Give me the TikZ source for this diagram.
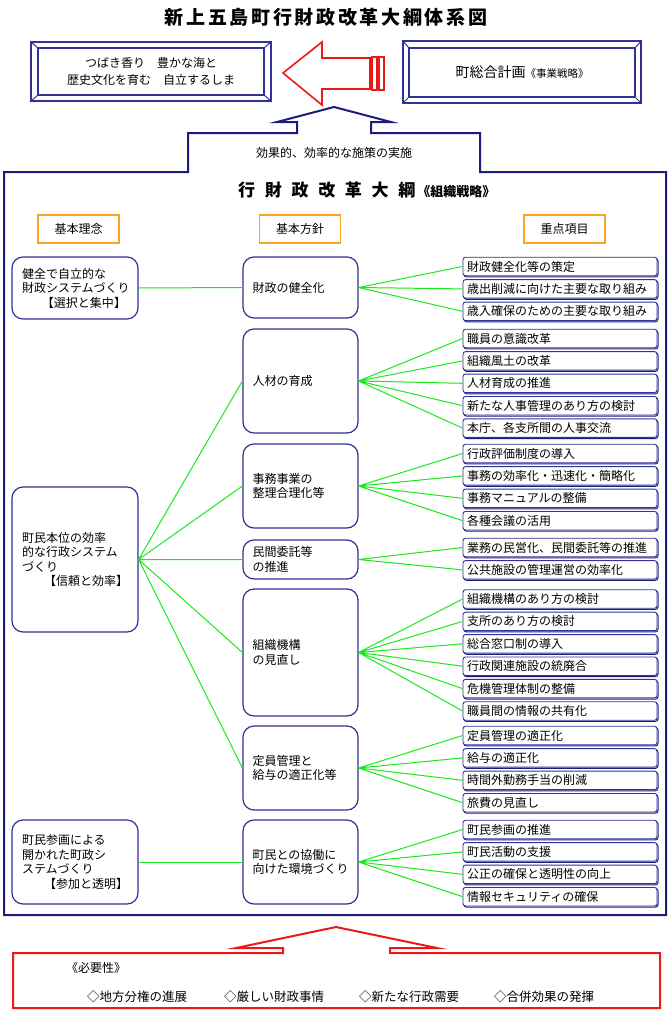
\documentclass[tikz,border=0pt]{standalone}
\usepackage{fontspec}
\setmainfont{Noto Sans CJK JP}
\usepackage{xcolor}
\usepackage{tikz}
\usetikzlibrary{shapes,arrows,positioning,calc}

\definecolor{framenavy}{RGB}{28,28,128}
\definecolor{boxblue}{RGB}{50,50,150}
\definecolor{headorange}{RGB}{250,165,30}
\definecolor{linkgreen}{RGB}{25,235,25}
\definecolor{alertred}{RGB}{235,25,25}

\begin{document}
\begin{tikzpicture}[x=1pt, y=-1pt, font=\fontsize{12}{14.5}\selectfont,
    bevel/.style={draw=boxblue, line width=1.6pt, inner sep=0pt, align=center},
    headbox/.style={draw=headorange, line width=1.2pt, minimum width=81pt, minimum height=28pt},
    leftbox/.style={draw=boxblue, line width=1.2pt, rounded corners=11pt, fill=white, minimum width=126pt, text width=106pt, align=left},
    midbox/.style={draw=boxblue, line width=1.2pt, rounded corners=11pt, fill=white, minimum width=115pt, text width=96pt, align=left},
    itembox/.style={draw=boxblue, line width=0.9pt, rounded corners=2.5pt, fill=white, minimum width=194pt, minimum height=18.5pt, text width=186pt, inner xsep=4pt, inner ysep=0pt, align=left, preaction={draw=framenavy, line width=1pt, transform canvas={xshift=1pt, yshift=-1.2pt}}},
    link/.style={draw=linkgreen, line width=1pt},
    outerframe/.style={draw=framenavy, line width=2pt},
    redline/.style={draw=alertred, line width=1.6pt}]
    \useasboundingbox[fill=white] (0,0) rectangle (670,1012);

    % title
    \node[font=\fontsize{19}{21}\selectfont\bfseries] (title) at (326,17) {\addfontfeature{LetterSpace=14}新上五島町行財政改革大綱体系図};

    % vision and town plan
    \node[bevel, minimum width=240pt, minimum height=59pt, font=\fontsize{12}{17}\selectfont] (vision) at (151,71.5) {つばき香り　豊かな海と\\歴史文化を育む　自立するしま};
    \draw[boxblue, line width=1.6pt] ($(vision.north west)+(8,7)$) rectangle ($(vision.south east)+(-8,-7)$);
    \draw[boxblue, line width=1pt] (vision.north west) -- ++(8,7) (vision.north east) -- ++(-8,7) (vision.south west) -- ++(8,-7) (vision.south east) -- ++(-8,-7);
    \node[bevel, minimum width=238pt, minimum height=62pt] (plan) at (522,72) {{\fontsize{14}{16}\selectfont 町総合計画}{\fontsize{10.5}{12}\selectfont 《事業戦略》}};
    \draw[boxblue, line width=1.6pt] ($(plan.north west)+(7,8)$) rectangle ($(plan.south east)+(-7,-7)$);
    \draw[boxblue, line width=1pt] (plan.north west) -- ++(7,8) (plan.north east) -- ++(-7,8) (plan.south west) -- ++(7,-7) (plan.south east) -- ++(-7,-7);

    % block arrow
    \draw[redline, fill=white] (283,73) -- (322,42) -- (322,58) -- (370,58) -- (370,89) -- (322,89) -- (322,105) -- cycle;
    \draw[redline] (372,57) rectangle (377,90) (379,57) rectangle (384,90);

    % main frame
    \draw[outerframe] (334,107) -- (391,122) -- (371,122) -- (371,133) -- (480,133) -- (480,172) -- (666,172) -- (666,915) -- (4,915) -- (4,172) -- (188,172) -- (188,133) -- (297,133) -- (297,122) -- (277,122) -- cycle;
    \node (policy) at (334,153) {効果的、効率的な施策の実施};
    \node[anchor=west, inner sep=0pt, font=\bfseries] (taiko) at (238,190) {{\fontsize{17}{20}\selectfont\addfontfeature{LetterSpace=57}行財政改革大綱}\hspace{2pt}{\fontsize{13}{15}\selectfont 《組織戦略》}};

    % column heads
    \node[headbox] (h1) at (78.5,229) {基本理念};
    \node[headbox] (h2) at (300,229) {基本方針};
    \node[headbox] (h3) at (564.5,229) {重点項目};

    % basic ideas
    \node[leftbox, minimum height=62pt] (l1) at (75,288) {健全で自立的な\\財政システムづくり\\\hspace*{20pt}【選択と集中】};
    \node[leftbox, minimum height=145pt] (l2) at (75,559.5) {町民本位の効率\\的な行政システム\\づくり\\\hspace*{22pt}【信頼と効率】};
    \node[leftbox, minimum height=84pt] (l3) at (75,862) {町民参画による\\開かれた町政シ\\ステムづくり\\\hspace*{22pt}【参加と透明】};

    % basic policies
    \node[midbox, minimum height=61pt] (m1) at (300.5,287.5) {財政の健全化};
    \node[midbox, minimum height=104pt] (m2) at (300.5,381) {人材の育成};
    \node[midbox, minimum height=84pt] (m3) at (300.5,486) {事務事業の\\整理合理化等};
    \node[midbox, minimum height=39pt] (m4) at (300.5,559.5) {民間委託等\\の推進};
    \node[midbox, minimum height=127pt] (m5) at (300.5,652.5) {組織機構\\の見直し};
    \node[midbox, minimum height=84pt] (m6) at (300.5,768) {定員管理と\\給与の適正化等};
    \node[midbox, minimum height=84pt] (m7) at (300.5,862) {町民との協働に\\向けた環境づくり};

    % key items
    \node[itembox] (m1a) at (560,266.5) {財政健全化等の策定};
    \node[itembox, below=3pt of m1a] (m1b) {歳出削減に向けた主要な取り組み};
    \node[itembox, below=3pt of m1b] (m1c) {歳入確保のための主要な取り組み};

    \node[itembox] (m2a) at (560,338.5) {職員の意識改革};
    \node[itembox, below=3pt of m2a] (m2b) {組織風土の改革};
    \node[itembox, below=3pt of m2b] (m2c) {人材育成の推進};
    \node[itembox, below=3pt of m2c] (m2d) {新たな人事管理のあり方の検討};
    \node[itembox, below=3pt of m2d] (m2e) {本庁、各支所間の人事交流};

    \node[itembox] (m3a) at (560,453.5) {行政評価制度の導入};
    \node[itembox, below=3pt of m3a] (m3b) {事務の効率化・迅速化・簡略化};
    \node[itembox, below=3pt of m3b] (m3c) {事務マニュアルの整備};
    \node[itembox, below=3pt of m3c] (m3d) {各種会議の活用};

    \node[itembox] (m4a) at (560,547.5) {業務の民営化、民間委託等の推進};
    \node[itembox, below=3pt of m4a] (m4b) {公共施設の管理運営の効率化};

    \node[itembox] (m5a) at (560,599) {組織機構のあり方の検討};
    \node[itembox, below=3pt of m5a] (m5b) {支所のあり方の検討};
    \node[itembox, below=3pt of m5b] (m5c) {総合窓口制の導入};
    \node[itembox, below=3pt of m5c] (m5d) {行政関連施設の統廃合};
    \node[itembox, below=3pt of m5d] (m5e) {危機管理体制の整備};
    \node[itembox, below=3pt of m5e] (m5f) {職員間の情報の共有化};

    \node[itembox] (m6a) at (560,735.5) {定員管理の適正化};
    \node[itembox, below=3pt of m6a] (m6b) {給与の適正化};
    \node[itembox, below=3pt of m6b] (m6c) {時間外勤務手当の削減};
    \node[itembox, below=3pt of m6c] (m6d) {旅費の見直し};

    \node[itembox] (m7a) at (560,829.5) {町民参画の推進};
    \node[itembox, below=3pt of m7a] (m7b) {町民活動の支援};
    \node[itembox, below=3pt of m7b] (m7c) {公正の確保と透明性の向上};
    \node[itembox, below=3pt of m7c] (m7d) {情報セキュリティの確保};

    % connecting lines
    \draw[link] (l1.east) -- (m1.west);
    \draw[link] (l2.east) -- (m2.west) (l2.east) -- (m3.west) (l2.east) -- (m4.west) (l2.east) -- (m5.west) (l2.east) -- (m6.west);
    \draw[link] (l3.east) -- (m7.west);
    \draw[link] (m1.east) -- (m1a.west) (m1.east) -- (m1b.west) (m1.east) -- (m1c.west);
    \draw[link] (m2.east) -- (m2a.west) (m2.east) -- (m2b.west) (m2.east) -- (m2c.west) (m2.east) -- (m2d.west) (m2.east) -- (m2e.west);
    \draw[link] (m3.east) -- (m3a.west) (m3.east) -- (m3b.west) (m3.east) -- (m3c.west) (m3.east) -- (m3d.west);
    \draw[link] (m4.east) -- (m4a.west) (m4.east) -- (m4b.west);
    \draw[link] (m5.east) -- (m5a.west) (m5.east) -- (m5b.west) (m5.east) -- (m5c.west) (m5.east) -- (m5d.west) (m5.east) -- (m5e.west) (m5.east) -- (m5f.west);
    \draw[link] (m6.east) -- (m6a.west) (m6.east) -- (m6b.west) (m6.east) -- (m6c.west) (m6.east) -- (m6d.west);
    \draw[link] (m7.east) -- (m7a.west) (m7.east) -- (m7b.west) (m7.east) -- (m7c.west) (m7.east) -- (m7d.west);

    % necessity
    \draw[redline, line width=2pt] (336,927) -- (437,948) -- (390,948) -- (390,953) -- (660,953) -- (660,1008) -- (13,1008) -- (13,953) -- (283,953) -- (283,948) -- (236,948) -- cycle;
    \node[anchor=west, inner sep=0pt] (need) at (66,968) {《必要性》};
    \node[anchor=west, inner sep=0pt, font=\fontsize{12.5}{14}\selectfont] (need1) at (87,997) {◇地方分権の進展};
    \node[anchor=west, inner sep=0pt, font=\fontsize{12.5}{14}\selectfont] (need2) at (224,997) {◇厳しい財政事情};
    \node[anchor=west, inner sep=0pt, font=\fontsize{12.5}{14}\selectfont] (need3) at (359,997) {◇新たな行政需要};
    \node[anchor=west, inner sep=0pt, font=\fontsize{12.5}{14}\selectfont] (need4) at (494,997) {◇合併効果の発揮};
\end{tikzpicture}
\end{document}
